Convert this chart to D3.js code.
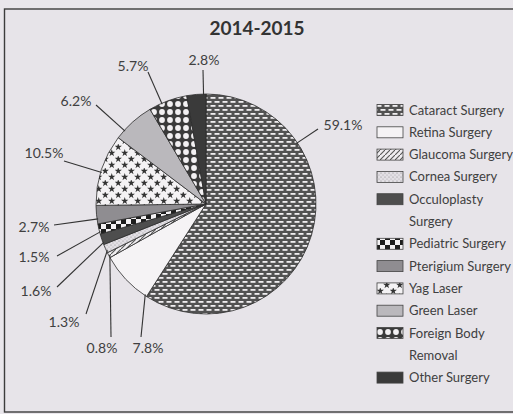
<!DOCTYPE html>
<html><head><meta charset="utf-8">
<script src="https://cdn.jsdelivr.net/npm/d3@7"></script>
<style>
body{margin:0;background:#e9e6eb;}
svg{display:block;font-family:Lato,'Open Sans',sans-serif;}
</style>
</head><body>
<svg id="c" width="513" height="414"></svg>
<script>
// ---- data ----
const categories = ["Cataract Surgery","Retina Surgery","Glaucoma Surgery","Cornea Surgery","Occuloplasty Surgery","Pediatric Surgery","Pterigium Surgery","Yag Laser","Green Laser","Foreign Body Removal","Other Surgery"];
const values = [59.1, 7.8, 0.8, 1.3, 1.6, 1.5, 2.7, 10.5, 6.2, 5.7, 2.8];
const valueLabels = ["59.1%","7.8%","0.8%","1.3%","1.6%","1.5%","2.7%","10.5%","6.2%","5.7%","2.8%"];
const legendLines = [["Cataract Surgery"],["Retina Surgery"],["Glaucoma Surgery"],["Cornea Surgery"],["Occuloplasty","Surgery"],["Pediatric Surgery"],["Pterigium Surgery"],["Yag Laser"],["Green Laser"],["Foreign Body","Removal"],["Other Surgery"]];
const title = "2014-2015";

// ---- layout (label placement, not data) ----
const labelLayout = [
  {tx:343, ty:125, lx:318, ly:129},
  {tx:148, ty:348, lx:141, ly:337},
  {tx:102, ty:348, lx:111, ly:337},
  {tx:64,  ty:322, lx:86,  ly:314},
  {tx:36,  ty:291, lx:57,  ly:287},
  {tx:34,  ty:257, lx:57,  ly:256},
  {tx:34,  ty:227, lx:54,  ly:225},
  {tx:44,  ty:153, lx:64,  ly:161},
  {tx:76,  ty:101, lx:96,  ly:105},
  {tx:133, ty:66,  lx:148, ly:72},
  {tx:204, ty:60,  lx:203, ly:70}
];

const svg = d3.select("#c");
const W = 513, H = 414;
const cx = 206, cy = 204, R = 110;
const ink = "#404040";

svg.append("rect").attr("width",W).attr("height",H).attr("fill","#e9e6eb");
svg.append("rect").attr("x",4.5).attr("y",9).attr("width",530).attr("height",403)
  .attr("fill","#e7e4e9").attr("stroke","#3c3c3c").attr("stroke-width",1.4);

// ---- patterns ----
const defs = svg.append("defs");
function pat(id, w, h){
  return defs.append("pattern").attr("id",id).attr("patternUnits","userSpaceOnUse")
    .attr("width",w).attr("height",h);
}
let p;
p = pat("p0",8,8);
p.append("rect").attr("width",8).attr("height",8).attr("fill","#525252");
[[0.5,1],[4.5,5],[-3.5,5]].forEach(([x,y])=>p.append("rect").attr("x",x).attr("y",y).attr("width",5).attr("height",1.8).attr("fill","#f0eef0"));
p = pat("p2",5,5);
p.append("rect").attr("width",5).attr("height",5).attr("fill","#efedf0");
p.append("path").attr("d","M-1,6 L6,-1").attr("stroke","#555").attr("stroke-width",1.1);
p = pat("p3",4,4);
p.append("rect").attr("width",4).attr("height",4).attr("fill","#e2dfe4");
p.append("circle").attr("cx",1).attr("cy",1).attr("r",0.6).attr("fill","#8a888c");
p.append("circle").attr("cx",3).attr("cy",3).attr("r",0.6).attr("fill","#a8a6aa");
p = pat("p5",10,10);
p.append("rect").attr("width",10).attr("height",10).attr("fill","#f4f2f4");
p.append("rect").attr("width",5).attr("height",5).attr("fill","#1e1e1e");
p.append("rect").attr("x",5).attr("y",5).attr("width",5).attr("height",5).attr("fill","#1e1e1e");
p = pat("p7",13,12);
p.append("rect").attr("width",13).attr("height",12).attr("fill","#f4f2f4");
const star = d3.symbol().type(d3.symbolStar).size(17)();
[[3.25,3],[9.75,9],[9.75,-3],[-3.25,9]].forEach(([x,y])=>p.append("path").attr("d",star).attr("transform",`translate(${x},${y})`).attr("fill","#333"));
p = pat("p9",8,8);
p.append("rect").attr("width",8).attr("height",8).attr("fill","#3a3a3a");
p.append("circle").attr("cx",4).attr("cy",4).attr("r",2.9).attr("fill","#f2f0f2");

const fills = ["url(#p0)","#f5f3f5","url(#p2)","url(#p3)","#4e4e4e","url(#p5)","#8f8d91","url(#p7)","#bab8bc","url(#p9)","#3a3a3a"];

// ---- pie ----
const pie = d3.pie().sort(null).value(d=>d.v);
const data = categories.map((c,i)=>({c, v:values[i], i}));
const arcs = pie(data);
const arc = d3.arc().innerRadius(0).outerRadius(R);

const g = svg.append("g").attr("transform",`translate(${cx},${cy})`);
g.selectAll("path.slice").data(arcs).join("path").attr("class","slice")
  .attr("d",arc).attr("fill",d=>fills[d.data.i])
  .attr("stroke","#2c2c2c").attr("stroke-width",0.8).attr("stroke-linejoin","round");

// ---- labels + leader lines ----
arcs.forEach((a,k)=>{
  const L = labelLayout[k];
  let ang = Math.atan2(L.lx-cx, -(L.ly-cy));
  if (ang < 0) ang += 2*Math.PI;
  const pad = Math.min(0.02,(a.endAngle-a.startAngle)/2);
  let t = ang;
  if (t < a.startAngle+pad || t > a.endAngle-pad){
    const d1 = Math.abs(Math.atan2(Math.sin(t-a.startAngle),Math.cos(t-a.startAngle)));
    const d2 = Math.abs(Math.atan2(Math.sin(t-a.endAngle),Math.cos(t-a.endAngle)));
    t = d1 < d2 ? a.startAngle+pad : a.endAngle-pad;
  }
  const ex = cx + R*0.99*Math.sin(t), ey = cy - R*0.99*Math.cos(t);
  svg.append("line").attr("x1",L.lx).attr("y1",L.ly).attr("x2",ex).attr("y2",ey)
    .attr("stroke","#333").attr("stroke-width",1.1);
  svg.append("text").attr("x",L.tx).attr("y",L.ty).attr("dy","0.35em")
    .attr("text-anchor","middle").attr("font-size",14).attr("fill",ink)
    .text(valueLabels[k]);
});

// ---- title ----
svg.append("text").attr("x",257).attr("y",28).attr("dy","0.35em").attr("text-anchor","middle")
  .attr("font-size",19).attr("font-weight","bold").attr("fill","#333").text(title);

// ---- legend ----
let row = 0;
const rowY = d3.scaleLinear().domain([0,1]).range([110,132.3]);
legendLines.forEach((lines,i)=>{
  const y = rowY(row);
  svg.append("rect").attr("x",377).attr("y",y-5.5).attr("width",26).attr("height",11)
    .attr("fill",fills[i]).attr("stroke","#444").attr("stroke-width",0.8);
  lines.forEach((ln,j)=>{
    svg.append("text").attr("x",409).attr("y",rowY(row+j)).attr("dy","0.35em")
      .attr("font-size",13).attr("fill",ink).text(ln);
  });
  row += lines.length;
});
</script>
</body></html>
